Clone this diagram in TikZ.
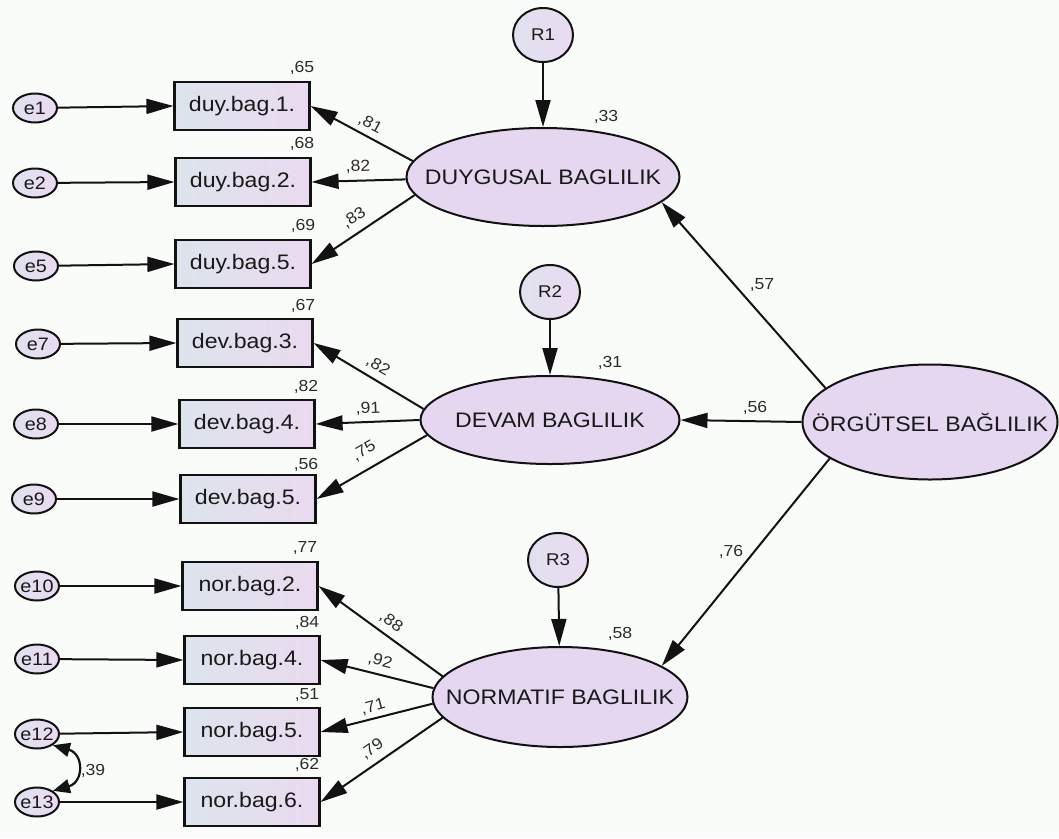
\documentclass[tikz,border=0pt]{standalone}
\usepackage{fontspec}
\setmainfont{Liberation Sans}
\newfontfamily\amos[FakeStretch=1.1]{Liberation Sans}
\usetikzlibrary{arrows.meta,shapes.geometric}

\definecolor{bg}{RGB}{249,252,248}
\definecolor{lav}{RGB}{229,215,240}
\definecolor{boxl}{RGB}{220,228,236}
\definecolor{boxr}{RGB}{234,218,240}
\definecolor{errl}{RGB}{224,226,238}
\definecolor{errr}{RGB}{234,218,242}
\definecolor{ink}{RGB}{18,18,18}
\definecolor{txt}{RGB}{25,25,25}
\definecolor{num}{RGB}{45,45,45}

\newcommand\bigtxt{\amos\fontsize{21}{25}\selectfont}
\newcommand\numtxt{\amos\fontsize{16}{19}\selectfont}
\newcommand\errtxt{\amos\fontsize{18}{21}\selectfont}
\newcommand\restxt{\amos\fontsize{17}{20}\selectfont}

\tikzset{
  obs/.style={rectangle, draw=ink, line width=2.2pt, minimum width=135pt,
    minimum height=48pt, inner sep=0pt, left color=boxl, right color=boxr,
    text=txt, font=\bigtxt},
  lat/.style={ellipse, draw=ink, line width=2pt, fill=lav, inner sep=0pt,
    label={[font=\bigtxt, text=txt]center:#1}},
  err/.style={ellipse, draw=ink, line width=2pt, minimum width=44pt,
    minimum height=29pt, inner sep=0pt, left color=errl, right color=errr,
    label={[font=\errtxt, text=txt]center:#1}},
  res/.style={ellipse, draw=ink, line width=2pt, minimum width=60pt,
    minimum height=54pt, inner sep=0pt, left color=errl, right color=errr,
    label={[font=\restxt, text=txt]center:#1}},
  link/.style={draw=ink, line width=2pt, -{Triangle[length=27pt,width=15pt]}},
  cov/.style={draw=ink, line width=2.2pt,
    {Triangle[length=17pt,width=14pt]}-{Triangle[length=17pt,width=14pt]}},
  num/.style={font=\numtxt, text=num, inner sep=0pt}
}

\begin{document}
\begin{tikzpicture}[x=1pt,y=-1pt]
\fill[bg] (0,0) rectangle (1059,838);
\useasboundingbox (0,0) rectangle (1059,838);

% latent factors
\node[lat={DUYGUSAL BAGLILIK}, minimum width=273pt, minimum height=98pt] (duy) at (543,177) {};
\node[lat={DEVAM BAGLILIK}, minimum width=259pt, minimum height=88pt] (dev) at (550,420) {};
\node[lat={NORMATIF BAGLILIK}, minimum width=255pt, minimum height=100pt] (nor) at (560,697) {};
\node[lat={ÖRGÜTSEL BAĞLILIK}, minimum width=255pt, minimum height=115pt] (org) at (930,422) {};

% residuals of the first-order factors
\node[res=R1] (R1) at (543,35) {};
\node[res=R2] (R2) at (550,292) {};
\node[res=R3] (R3) at (558,560) {};

% observed items
\node[obs] (b1) at (242,106) {duy.bag.1.};
\node[obs] (b2) at (243,182) {duy.bag.2.};
\node[obs] (b5) at (243,264) {duy.bag.5.};
\node[obs] (d3) at (245,343) {dev.bag.3.};
\node[obs] (d4) at (247,424) {dev.bag.4.};
\node[obs] (d5) at (248,499) {dev.bag.5.};
\node[obs] (n2) at (250,586) {nor.bag.2.};
\node[obs] (n4) at (252,660) {nor.bag.4.};
\node[obs] (n5) at (252,732) {nor.bag.5.};
\node[obs] (n6) at (252,802) {nor.bag.6.};

% error terms
\node[err=e1] (e1) at (35,108) {};
\node[err=e2] (e2) at (35,183) {};
\node[err=e5] (e5) at (36,266) {};
\node[err=e7] (e7) at (38,344) {};
\node[err=e8] (e8) at (36,424) {};
\node[err=e9] (e9) at (34,499) {};
\node[err=e10] (e10) at (37,586) {};
\node[err=e11] (e11) at (37,659) {};
\node[err=e12] (e12) at (37,734) {};
\node[err=e13] (e13) at (37,802) {};

% structural paths
\draw[link] (R1) -- (duy);
\draw[link] (R2) -- (dev);
\draw[link] (R3) -- (nor);
\draw[link] (org.162) -- (duy.348);
\draw[link] (org.west) -- (dev.east);
\draw[link] (org.200) -- (nor.17);

% loadings
\draw[link] (duy.173) -- (b1.east);
\draw[link] (duy.181) -- (b2.east);
\draw[link] (duy.188) -- (b5.east);
\draw[link] (dev.175) -- (d3.east);
\draw[link] (dev.west) -- (d4.east);
\draw[link] (dev.187) -- (d5.east);
\draw[link] (nor.170) -- (n2.east);
\draw[link] (nor.176) -- (n4.east);
\draw[link] (nor.183) -- (n5.east);
\draw[link] (nor.190) -- (n6.east);

% error paths
\draw[link] (e1) -- (b1.west);
\draw[link] (e2) -- (b2.west);
\draw[link] (e5) -- (b5.west);
\draw[link] (e7) -- (d3.west);
\draw[link] (e8) -- (d4.west);
\draw[link] (e9) -- (d5.west);
\draw[link] (e10) -- (n2.west);
\draw[link] (e11) -- (n4.west);
\draw[link] (e12) -- (n5.west);
\draw[link] (e13) -- (n6.west);

% error covariance
\coordinate (cv1) at (84,754);
\coordinate (cv2) at (84,782);
\draw[cov] (e12.-35) .. controls (cv1) and (cv2) .. (e13.35);
\node[num] (c39) at (93,771) {,39};

% squared multiple correlations
\node[num] (r65) at (302,68) {,65};
\node[num] (r68) at (302,144) {,68};
\node[num] (r69) at (303,226) {,69};
\node[num] (r67) at (303,306) {,67};
\node[num] (r82) at (306,387) {,82};
\node[num] (r56) at (306,465) {,56};
\node[num] (r77) at (305,548) {,77};
\node[num] (r84) at (307,623) {,84};
\node[num] (r51) at (307,695) {,51};
\node[num] (r62) at (307,765) {,62};
\node[num] (r33) at (606,117) {,33};
\node[num] (r31) at (610,363) {,31};
\node[num] (r58) at (620,634) {,58};

% standardized weights
\node[num, rotate=-28] (w81) at (370,124) {,81};
\node[num, rotate=2] (w82a) at (358,167) {,82};
\node[num, rotate=33] (w83) at (354,218) {,83};
\node[num, rotate=-30] (w82b) at (378,366) {,82};
\node[num, rotate=2] (w91) at (368,409) {,91};
\node[num, rotate=30] (w75) at (364,451) {,75};
\node[num, rotate=-35] (w88) at (391,622) {,88};
\node[num, rotate=-14] (w92) at (380,661) {,92};
\node[num, rotate=15] (w71) at (373,707) {,71};
\node[num, rotate=36] (w79) at (372,749) {,79};
\node[num] (w57) at (762,285) {,57};
\node[num] (w56) at (755,408) {,56};
\node[num] (w76) at (731,552) {,76};
\end{tikzpicture}
\end{document}
